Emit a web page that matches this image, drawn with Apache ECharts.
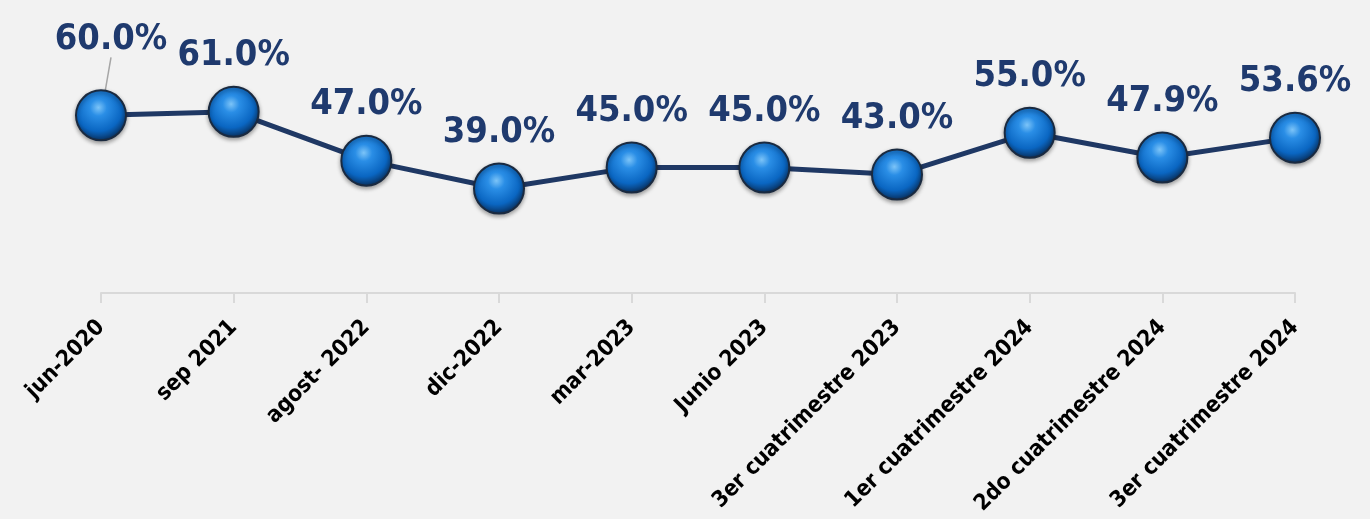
<!DOCTYPE html>
<html><head><meta charset="utf-8">
<script src="https://cdn.jsdelivr.net/npm/echarts@6/dist/echarts.min.js"></script>
<style>html,body{margin:0;padding:0;background:#f2f2f2}#c{width:1370px;height:519px}</style>
</head><body><div id="c"></div>
<script>
const categories = ['jun-2020','sep 2021','agost- 2022','dic-2022','mar-2023','Junio 2023','3er cuatrimestre 2023','1er cuatrimestre 2024','2do cuatrimestre 2024','3er cuatrimestre 2024'];
const values = [60.0, 61.0, 47.0, 39.0, 45.0, 45.0, 43.0, 55.0, 47.9, 53.6];

const chart = echarts.init(document.getElementById('c'));
const FONT = '"Liberation Sans Narrow","DejaVu Sans Condensed",sans-serif';
const sphere = {
  type: 'radial', x: 0.45, y: 0.35, r: 0.65,
  colorStops: [
    {offset: 0, color: '#7cc4f8'},
    {offset: 0.25, color: '#2a8ee6'},
    {offset: 0.7, color: '#0a66c2'},
    {offset: 1, color: '#0a2f5c'}
  ]
};
const seriesData = values.map((v, i) => i === 0
  ? {value: v, labelLine: {show: true, lineStyle: {color: '#a6a6a6', width: 1.5}}}
  : {value: v});
chart.setOption({
  backgroundColor: '#f2f2f2',
  animation: false,
  grid: {left: 101, right: 75, top: 84, bottom: 226, containLabel: false},
  xAxis: {
    type: 'category', data: categories, boundaryGap: false,
    axisLine: {lineStyle: {color: '#d9d9d9', width: 2}},
    axisTick: {show: true, length: 10, lineStyle: {color: '#d9d9d9', width: 2}},
    axisLabel: {rotate: 45, margin: 31, color: '#000', fontSize: 22.5, fontWeight: 'bold', fontFamily: FONT}
  },
  yAxis: {type: 'value', min: 9, max: 69, show: false, splitLine: {show: false}},
  series: [{
    type: 'line', data: seriesData,
    symbol: 'circle', symbolSize: 50,
    lineStyle: {color: '#1f3864', width: 5},
    itemStyle: {color: sphere, borderColor: '#1a2a40', borderWidth: 2,
      shadowColor: 'rgba(0,0,0,0.35)', shadowBlur: 4, shadowOffsetY: 2},
    label: {show: true, position: 'top', distance: 12, color: '#1f3a6e', fontSize: 36, fontWeight: 'bold',
      fontFamily: FONT, formatter: p => p.value.toFixed(1) + '%'},
    labelLine: {show: false},
    labelLayout: function (p) {
      if (p.dataIndex === 0) return {dx: 10, dy: -20};
      return {};
    }
  }]
});
</script></body></html>
